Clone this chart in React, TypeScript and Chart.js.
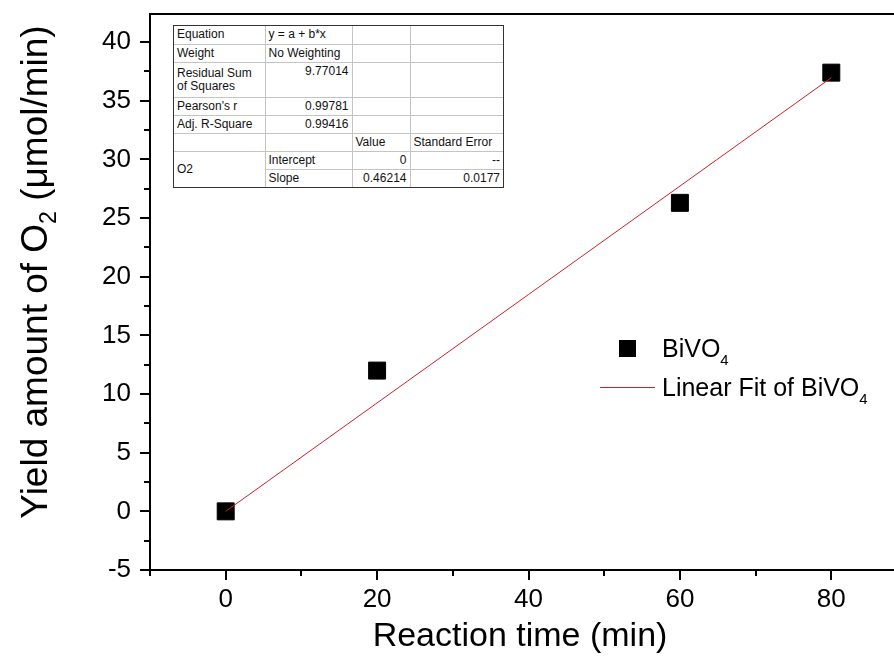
import React, { useEffect, useRef } from 'react';
import { Chart, registerables } from 'chart.js';

Chart.register(...registerables);

// ---- data ----
const timeMin = [0, 20, 60, 80];
const yieldO2 = [0, 12.0, 26.3, 37.4];
const fitX = [0, 80];
const fitY = [0, 36.97];
const xTickLabels = [0, 20, 40, 60, 80];
const yTickLabels = [-5, 0, 5, 10, 15, 20, 25, 30, 35, 40];

const tableCol1 = ['Equation', 'Weight', 'Residual Sum of Squares', "Pearson's r", 'Adj. R-Square'];
const tableCol2 = ['y = a + b*x', 'No Weighting', '9.77014', '0.99781', '0.99416'];
const paramHeaders = ['Value', 'Standard Error'];
const paramNames = ['Intercept', 'Slope'];
const paramValues = ['0', '0.46214'];
const paramErrors = ['--', '0.0177'];
const paramGroup = 'O2';

const FONT = '"Liberation Sans", Arial, Helvetica, sans-serif';

const decorPlugin = {
  id: 'decor',
  afterDraw(chart: any) {
    const ctx: CanvasRenderingContext2D = chart.ctx;
    const { left, top, right, bottom } = chart.chartArea;
    const xs = chart.scales.x;
    const ys = chart.scales.y;
    ctx.save();
    ctx.strokeStyle = '#000';
    ctx.lineWidth = 2;
    ctx.beginPath();
    ctx.moveTo(left - 1, top);
    ctx.lineTo(right, top);
    ctx.lineTo(right, bottom);
    ctx.stroke();
    // ticks
    ctx.beginPath();
    xs.ticks.forEach((t: any) => {
      const px = Math.round(xs.getPixelForValue(t.value));
      const major = t.value % 20 === 0;
      const len = major ? 10 : 6;
      ctx.moveTo(px, bottom);
      ctx.lineTo(px, bottom + len);
    });
    ys.ticks.forEach((t: any) => {
      const py = Math.round(ys.getPixelForValue(t.value));
      const major = Math.abs(t.value - Math.round(t.value / 5) * 5) < 1e-6;
      const len = major ? 10 : 6;
      ctx.moveTo(left, py);
      ctx.lineTo(left - len, py);
    });
    ctx.stroke();

    // axis titles
    ctx.fillStyle = '#000';
    ctx.font = `34px ${FONT}`;
    ctx.textAlign = 'center';
    ctx.textBaseline = 'middle';
    ctx.fillText('Reaction time (min)', 520, 637);

    // y title with subscript
    ctx.save();
    ctx.translate(34, 272);
    ctx.rotate(-Math.PI / 2);
    ctx.textAlign = 'left';
    ctx.textBaseline = 'alphabetic';
    const main = `37px ${FONT}`;
    const sub = `23px ${FONT}`;
    const t1 = 'Yield amount of O';
    const t2 = '2';
    const t3 = ' (\u03bcmol/min)';
    ctx.font = main;
    const w1 = ctx.measureText(t1).width;
    const w3 = ctx.measureText(t3).width;
    ctx.font = sub;
    const w2 = ctx.measureText(t2).width;
    const x0 = -(w1 + w2 + w3) / 2;
    ctx.font = main;
    ctx.fillText(t1, x0, 13);
    ctx.font = sub;
    ctx.fillText(t2, x0 + w1, 22);
    ctx.font = main;
    ctx.fillText(t3, x0 + w1 + w2, 13);
    ctx.restore();

    // legend
    ctx.fillStyle = '#000';
    ctx.fillRect(619, 340, 17, 17);
    ctx.strokeStyle = '#d0202a';
    ctx.lineWidth = 1;
    ctx.beginPath();
    ctx.moveTo(600, 387.5);
    ctx.lineTo(655, 387.5);
    ctx.stroke();
    ctx.textAlign = 'left';
    ctx.textBaseline = 'alphabetic';
    const lf = `25px ${FONT}`;
    const sf = `15px ${FONT}`;
    const drawSub = (base: string, s: string, x: number, y: number) => {
      ctx.font = lf;
      ctx.fillText(base, x, y);
      const w = ctx.measureText(base).width;
      ctx.font = sf;
      ctx.fillText(s, x + w, y + 8);
    };
    drawSub('BiVO', '4', 662, 357);
    drawSub('Linear Fit of BiVO', '4', 662, 396);
    ctx.restore();
  },
};

const cellBase: React.CSSProperties = {
  border: '1px solid #c4c4c4',
  padding: '0 3px',
  lineHeight: '13px',
  whiteSpace: 'nowrap',
  overflow: 'hidden',
};

function FitTable() {
  const rowH = [18, 18, 35, 18, 18];
  return (
    <div
      style={{
        position: 'absolute',
        left: 173,
        top: 25,
        border: '1px solid #333',
        background: '#fff',
        fontFamily: FONT,
        fontSize: 12,
        color: '#111',
      }}
    >
      <table
        style={{
          borderCollapse: 'collapse',
          borderStyle: 'hidden',
          tableLayout: 'fixed',
          width: 329,
        }}
      >
        <colgroup>
          <col style={{ width: 91 }} />
          <col style={{ width: 87 }} />
          <col style={{ width: 58 }} />
          <col style={{ width: 93 }} />
        </colgroup>
        <tbody>
          {tableCol1.map((lab, i) => {
            const numeric = /^[0-9.]+$/.test(tableCol2[i]);
            return (
              <tr key={lab} style={{ height: rowH[i] }}>
                <td style={{ ...cellBase, whiteSpace: 'normal' }}>
                  {lab === 'Residual Sum of Squares' ? (
                    <>
                      Residual Sum
                      <br />
                      of Squares
                    </>
                  ) : (
                    lab
                  )}
                </td>
                <td
                  style={{
                    ...cellBase,
                    textAlign: numeric ? 'right' : 'left',
                    verticalAlign: i === 2 ? 'top' : 'middle',
                    paddingTop: i === 2 ? 2 : 0,
                  }}
                >
                  {tableCol2[i]}
                </td>
                <td style={cellBase}></td>
                <td style={cellBase}></td>
              </tr>
            );
          })}
          <tr style={{ height: 18 }}>
            <td style={cellBase}></td>
            <td style={cellBase}></td>
            <td style={cellBase}>{paramHeaders[0]}</td>
            <td style={cellBase}>{paramHeaders[1]}</td>
          </tr>
          {paramNames.map((p, i) => (
            <tr key={p} style={{ height: 18 }}>
              {i === 0 && (
                <td rowSpan={2} style={cellBase}>
                  {paramGroup}
                </td>
              )}
              <td style={cellBase}>{p}</td>
              <td style={{ ...cellBase, textAlign: 'right' }}>{paramValues[i]}</td>
              <td style={{ ...cellBase, textAlign: 'right' }}>{paramErrors[i]}</td>
            </tr>
          ))}
        </tbody>
      </table>
    </div>
  );
}

export default function App() {
  const ref = useRef<HTMLCanvasElement | null>(null);
  useEffect(() => {
    if (!ref.current) return;
    const isMajorY = (v: number) => Math.abs(v - Math.round(v / 5) * 5) < 1e-6;
    const chart = new Chart(ref.current, {
      type: 'scatter',
      data: {
        datasets: [
          {
            label: 'Linear Fit of BiVO4',
            data: fitX.map((x, i) => ({ x, y: fitY[i] })),
            showLine: true,
            borderColor: '#d0202a',
            borderWidth: 1,
            pointRadius: 0,
            fill: false,
          },
          {
            label: 'BiVO4',
            data: timeMin.map((x, i) => ({ x, y: yieldO2[i] })),
            pointStyle: 'rect',
            pointRadius: 12,
            backgroundColor: '#000',
            borderColor: '#000',
            borderWidth: 1,
          },
        ],
      },
      options: {
        responsive: false,
        animation: false,
        devicePixelRatio: 1,
        layout: { padding: { top: 14, right: 13, left: 0, bottom: 0 } },
        plugins: { legend: { display: false }, tooltip: { enabled: false } },
        scales: {
          x: {
            type: 'linear',
            min: -10,
            max: 90,
            ticks: {
              stepSize: 10,
              autoSkip: false,
              maxRotation: 0,
              padding: 4,
              color: '#000',
              font: { family: FONT, size: 26 },
              callback: (v: any) => (xTickLabels.includes(Number(v)) ? String(v) : ''),
            },
            grid: { drawOnChartArea: false, drawTicks: true, tickLength: 10, tickColor: 'rgba(0,0,0,0)' },
            border: { display: true, color: '#000', width: 2 },
            afterFit: (s: any) => {
              s.height = 89;
              s.paddingLeft = 0;
              s.paddingRight = 0;
            },
          },
          y: {
            type: 'linear',
            min: -5,
            max: 42.4,
            ticks: {
              stepSize: 2.5,
              includeBounds: false,
              autoSkip: false,
              padding: 9,
              color: '#000',
              font: { family: FONT, size: 26 },
              callback: (v: any) => {
                const n = Number(v);
                return isMajorY(n) && yTickLabels.includes(Math.round(n)) ? String(Math.round(n)) : '';
              },
            },
            grid: { drawOnChartArea: false, drawTicks: true, tickLength: 10, tickColor: 'rgba(0,0,0,0)' },
            border: { display: true, color: '#000', width: 2 },
            afterFit: (s: any) => {
              s.width = 150;
              s.paddingTop = 0;
              s.paddingBottom = 0;
            },
          },
        },
      },
      plugins: [decorPlugin],
    });
    return () => chart.destroy();
  }, []);

  return (
    <div
      style={{
        position: 'absolute',
        left: 0,
        top: 0,
        width: 894,
        height: 659,
        overflow: 'hidden',
        background: '#fff',
      }}
    >
      <canvas ref={ref} width={920} height={659} style={{ display: 'block' }} />
      <FitTable />
    </div>
  );
}
